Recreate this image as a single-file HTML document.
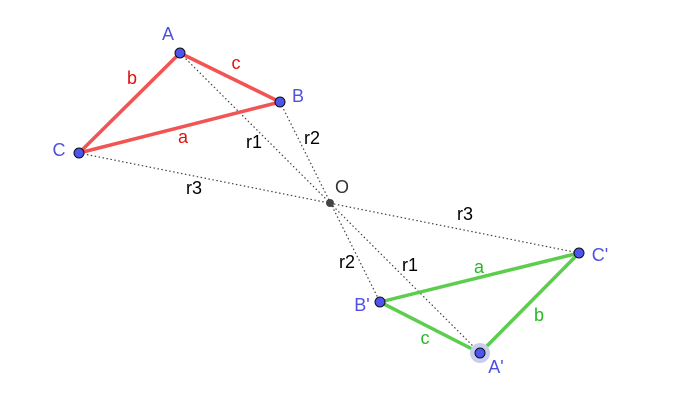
<!DOCTYPE html>
<html><head><style>
html,body{margin:0;padding:0;background:#fff;}
svg text{font-family:"Liberation Sans",sans-serif;font-size:18px;}
</style></head><body>
<svg width="676" height="407" xmlns="http://www.w3.org/2000/svg">
<g stroke="#444" stroke-width="1.2" stroke-dasharray="1.5,2.5" fill="none">
<line x1="180" y1="53" x2="480" y2="353"/>
<line x1="280" y1="102" x2="380" y2="302"/>
<line x1="79" y1="153" x2="579" y2="253"/>
</g>
<g stroke="#f25353" stroke-width="3.5" stroke-linecap="round">
<line x1="180" y1="53" x2="280" y2="102"/>
<line x1="180" y1="53" x2="79" y2="153"/>
<line x1="79" y1="153" x2="280" y2="102"/>
</g>
<g stroke="#5ccd4c" stroke-width="3.5" stroke-linecap="round">
<line x1="380" y1="302" x2="579" y2="253"/>
<line x1="380" y1="302" x2="480" y2="353"/>
<line x1="480" y1="353" x2="579" y2="253"/>
</g>
<circle cx="480" cy="353" r="10" fill="#c8cdf0"/>
<g fill="#4d55ee" stroke="#111" stroke-width="1">
<circle cx="180" cy="53" r="5"/><circle cx="280" cy="102" r="5"/><circle cx="79" cy="153" r="5"/>
<circle cx="380" cy="302" r="5"/><circle cx="579" cy="253" r="5"/><circle cx="480" cy="353" r="5"/>
</g>
<circle cx="330" cy="203" r="4" fill="#444"/>
<g fill="#5050e0" text-anchor="middle" dominant-baseline="central">
<text x="168" y="34">A</text><text x="298" y="96">B</text><text x="59" y="150">C</text>
<text x="600" y="255">C'</text><text x="362" y="305">B'</text><text x="496" y="367">A'</text>
</g>
<g fill="#e01010" text-anchor="middle" dominant-baseline="central">
<text x="236" y="63">c</text><text x="132" y="78">b</text><text x="183" y="137">a</text>
</g>
<g fill="#22bb22" text-anchor="middle" dominant-baseline="central">
<text x="479" y="267">a</text><text x="539" y="315">b</text><text x="425" y="338">c</text>
</g>
<g fill="#000" text-anchor="middle" dominant-baseline="central">
<text x="254" y="142">r1</text><text x="312" y="138">r2</text><text x="194" y="188">r3</text>
<text x="465" y="214">r3</text><text x="347" y="262">r2</text><text x="410" y="265">r1</text>
</g>
<text x="342" y="187" fill="#333" text-anchor="middle" dominant-baseline="central">O</text>
</svg>
</body></html>
